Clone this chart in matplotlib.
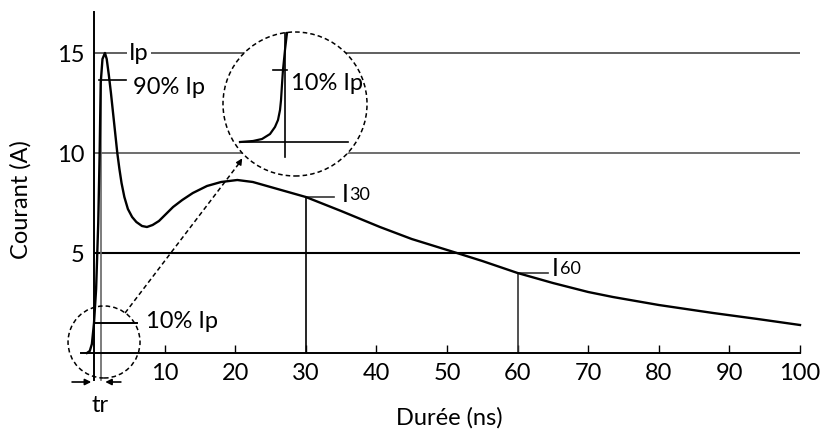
import matplotlib.pyplot as plt
from matplotlib.patches import Ellipse

plt.rcParams['font.family'] = ['Lato', 'DejaVu Sans']

# ESD current waveform
t_ns = [-1.0, -0.6, -0.3, 0.0, 0.3, 0.6, 0.8, 0.95, 1.2, 1.55, 1.8, 2.1, 2.4, 2.7, 3.0,
        3.3, 3.6, 3.9, 4.3, 4.8, 5.4, 6.0, 6.8, 7.5, 8.3, 9.2, 10.2, 11.2, 12.5, 14.0,
        16.0, 18.0, 20.3, 22.5, 25.0, 27.5, 30.0, 35.0, 40.5, 45.0, 51.4, 55.0, 60.0,
        65.0, 70.0, 73.5, 80.0, 87.7, 94.0, 100.0]
current = [0.0, 0.1, 0.45, 1.5, 3.2, 6.5, 10.0, 13.5, 14.7, 15.0, 14.7, 13.9, 13.0, 12.0, 11.0,
           10.0, 9.2, 8.5, 7.8, 7.2, 6.8, 6.55, 6.35, 6.3, 6.4, 6.6, 6.95, 7.3, 7.65, 8.0,
           8.35, 8.55, 8.65, 8.55, 8.3, 8.05, 7.8, 7.1, 6.3, 5.7, 5.0, 4.6, 4.0,
           3.5, 3.05, 2.8, 2.4, 2.0, 1.7, 1.4]

grid_levels = [5, 10, 15]
grid_colors = ['black', '#555555', '#444444']
x_ticks = [10, 20, 30, 40, 50, 60, 70, 80, 90, 100]

ip = 15.0
i30 = 7.8
i60 = 4.0
t_90 = 1.0

# zoomed view of the rise (in circle-radius units)
zoom_u = [-0.764, -0.583, -0.458, -0.347, -0.278, -0.236, -0.208, -0.194, -0.181, -0.167, -0.139, -0.111]
zoom_v = [-0.528, -0.514, -0.486, -0.417, -0.319, -0.222, -0.083, 0.056, 0.264, 0.472, 0.75, 0.986]

fig = plt.figure(figsize=(8.36, 4.32), dpi=100)
ax = fig.add_axes([94 / 836, 1 - 353 / 432, 706 / 836, 341 / 432])
ax.set_xlim(0, 100)
ax.set_ylim(0, 17.05)

for s in ['top', 'right']:
    ax.spines[s].set_visible(False)
ax.spines['left'].set_linewidth(1.4)
ax.spines['bottom'].set_linewidth(1.4)

ax.set_xticks(x_ticks)
ax.set_yticks(grid_levels)
ax.tick_params(axis='x', direction='in', length=6, width=1, pad=7, labelsize=17)
ax.tick_params(axis='y', length=0, pad=7, labelsize=17)

for lev, col in zip(grid_levels, grid_colors):
    ax.axhline(lev, color=col, lw=1.5 if lev == 5 else 1.2, zorder=1)

ax.plot(t_ns, current, color='black', lw=1.7, zorder=3, clip_on=False)

# axis extensions to the left / below
ax.plot([-1.9, 0], [0, 0], color='black', lw=1.4, clip_on=False)
ax.plot([0, 0], [-1.35, 0], color='black', lw=1.4, clip_on=False)
ax.plot([t_90, t_90], [-1.35, 0.9 * ip], color='#666666', lw=1.2, clip_on=False, zorder=2)

# Ip and 90% Ip
ax.text(5.0, ip, 'Ip', fontsize=17, va='center', ha='left', zorder=5,
        bbox=dict(facecolor='white', edgecolor='none', pad=1.5))
ax.plot([0.7, 4.6], [0.9 * ip + 0.15, 0.9 * ip + 0.15], color='black', lw=1.2)
ax.text(5.5, 13.3, '90% Ip', fontsize=17, va='center', ha='left')

# 10% Ip
ax.plot([0, 6.1], [0.1 * ip, 0.1 * ip], color='black', lw=1.4, clip_on=False)
ax.text(7.4, 1.55, '10% Ip', fontsize=17, va='center', ha='left')


def sub_label(x, y, main, small):
    t = ax.text(x, y, main, fontsize=18, va='center', ha='left')
    ax.annotate(small, xy=(1, 0.1), xycoords=t, xytext=(0.5, 0), textcoords='offset points',
                fontsize=13, va='bottom', ha='left')


# I30 and I60 markers
ax.plot([30, 30], [0, i30], color='black', lw=1.2)
ax.plot([30, 34.0], [i30, i30], color='#333333', lw=1.2)
sub_label(35.1, 7.95, 'I', '30')
ax.plot([60, 60], [0, i60], color='#333333', lw=1.2)
ax.plot([60, 64.3], [i60, i60], color='#333333', lw=1.2)
sub_label(64.9, 4.25, 'I', '60')

# rise time arrows
ax.annotate('', xy=(0, -1.45), xytext=(-3.5, -1.45),
            arrowprops=dict(arrowstyle='-|>', color='black', lw=1.2, mutation_scale=9),
            annotation_clip=False)
ax.annotate('', xy=(1.2, -1.45), xytext=(4.2, -1.45),
            arrowprops=dict(arrowstyle='-|>', color='black', lw=1.2, mutation_scale=9),
            annotation_clip=False)
ax.text(0.85, -2.6, 'tr', fontsize=17, va='center', ha='center')

# small dashed circle around the foot
ax.add_patch(Ellipse((1.42, 0.55), 2 * 5.1, 2 * 1.8, fill=False, ls=(0, (3, 2)),
                     lw=1.1, color='black', clip_on=False, zorder=4))

# dashed arrow towards the zoom
ax.plot([4.4, 20.8], [2.0, 9.6], color='black', lw=1.1, ls=(0, (3, 2)), zorder=4)
ax.annotate('', xy=(21.2, 9.85), xytext=(20.4, 9.4),
            arrowprops=dict(arrowstyle='-|>', color='black', lw=1, mutation_scale=9))

# zoom circle
ct, ci, rt, ri = 28.47, 12.45, 10.2, 3.6
ax.add_patch(Ellipse((ct, ci), 2 * rt, 2 * ri, facecolor='white', edgecolor='black',
                     ls=(0, (3, 2)), lw=1.1, zorder=4))
zx = [ct + u * rt for u in zoom_u]
zy = [ci + v * ri for v in zoom_v]
ax.plot(zx, zy, color='black', lw=1.6, zorder=5)
ax.plot([ct - 0.764 * rt, ct + 0.736 * rt], [ci - 0.528 * ri] * 2, color='black', lw=1.2, zorder=5)
ax.plot([ct - 0.139 * rt] * 2, [ci - 0.736 * ri, ci + 0.986 * ri], color='black', lw=1.2, zorder=5)
ax.plot([ct - 0.306 * rt, ct - 0.111 * rt], [ci + 0.472 * ri] * 2, color='black', lw=1.2, zorder=5)
ax.text(ct - 0.06 * rt, ci + 0.29 * ri, '10% Ip', fontsize=17, va='center', ha='left', zorder=6)

ax.set_xlabel('Durée (ns)', fontsize=17)
ax.set_ylabel('Courant (A)', fontsize=17)
ax.xaxis.set_label_coords(0.503, -0.16)
ax.yaxis.set_label_coords(-0.088, 0.449)

fig.savefig('out.png', dpi=100)
